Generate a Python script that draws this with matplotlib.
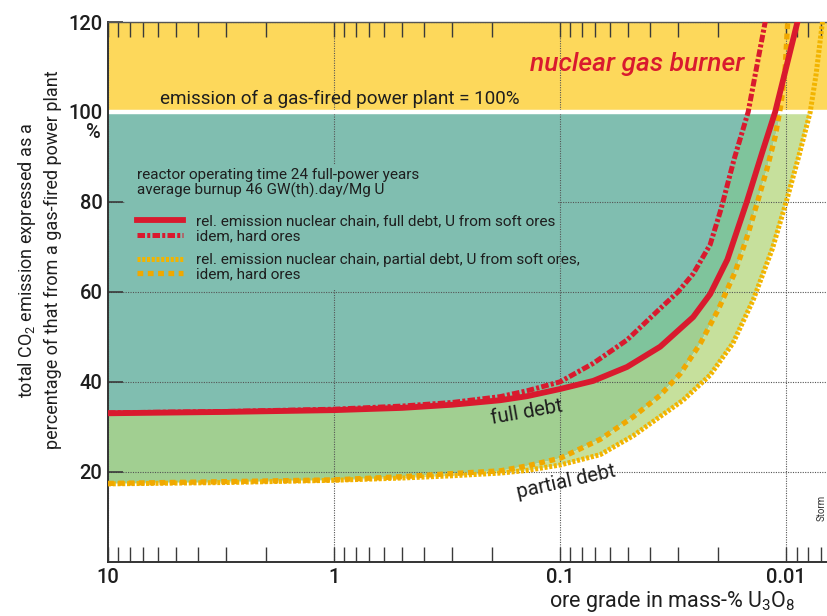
import numpy as np
import matplotlib.pyplot as plt
from matplotlib.patches import Rectangle
from matplotlib.ticker import FixedLocator, LogLocator, NullFormatter

plt.rcParams['font.family'] = ['Roboto', 'DejaVu Sans']
plt.rcParams['mathtext.fontset'] = 'custom'
plt.rcParams['mathtext.rm'] = 'Roboto'
plt.rcParams['mathtext.it'] = 'Roboto:italic'

# ore grade (mass-% U3O8) -> total CO2 emission, % of a gas-fired plant
# full debt, U from soft ores
grade_full_soft = [10, 3, 1, 0.5, 0.3, 0.184, 0.14, 0.1, 0.0714, 0.0506, 0.0361, 0.0258,
                   0.0217, 0.0182, 0.0149, 0.01277, 0.01119, 0.00894, 0.0083]
emis_full_soft = [33.0, 33.3, 33.7, 34.2, 34.9, 35.9, 36.8, 38.4, 40.2, 43.3, 47.8, 54.4,
                  59.5, 67.2, 80.2, 91.0, 100.0, 119.8, 126.0]
# full debt, hard ores
grade_full_hard = [10, 3, 1, 0.5, 0.3, 0.184, 0.14, 0.1, 0.0714, 0.0506, 0.0361, 0.0301,
                   0.0258, 0.0217, 0.0194, 0.0170, 0.01473, 0.01239, 0.01153]
emis_full_hard = [33.1, 33.4, 33.9, 34.6, 35.4, 36.7, 38.0, 40.0, 44.1, 49.3, 56.3, 60.0,
                  64.0, 70.5, 78.5, 89.5, 100.0, 120.0, 126.0]
# partial debt, hard ores
grade_part_hard = [10, 3, 1, 0.5, 0.3, 0.184, 0.14, 0.1, 0.0665, 0.0475, 0.0361, 0.0294,
                   0.0240, 0.0200, 0.0168, 0.01473, 0.01331, 0.01214, 0.01119, 0.01052,
                   0.01010, 0.00985, 0.00975]
emis_part_hard = [17.4, 17.8, 18.2, 18.9, 19.6, 20.2, 21.3, 23.0, 27.2, 32.2, 37.0, 41.8,
                  48.5, 56.0, 64.5, 73.0, 80.5, 87.5, 94.5, 102.0, 110.0, 120.0, 126.0]
# partial debt, U from soft ores
grade_part_soft = [10, 3, 1, 0.5, 0.3, 0.184, 0.14, 0.1, 0.0665, 0.0475, 0.0286, 0.0217,
                   0.0172, 0.0140, 0.01153, 0.0100, 0.00876, 0.00783, 0.00737, 0.00693,
                   0.00665]
emis_part_soft = [17.3, 17.6, 18.1, 18.6, 19.1, 19.7, 20.3, 21.5, 23.8, 28.0, 35.9, 41.5,
                  48.6, 58.2, 69.5, 80.0, 90.5, 100.0, 108.5, 119.6, 126.0]

xticks = [10, 1, 0.1, 0.01]
xticklabels = ['10', '1', '0.1', '0.01']
yticks = [20, 40, 60, 80, 100, 120]

header = ('reactor operating time 24 full-power years\n'
          'average burnup 46 GW(th).day/Mg U')
labels = ['rel. emission nuclear chain, full debt, U from soft ores',
          'idem, hard ores',
          'rel. emission nuclear chain, partial debt, U from soft ores,',
          'idem, hard ores']

yellow = '#fdd85b'
teal = '#80beb0'
green_mid = '#7fc49c'
green = '#a1cf91'
green_light = '#c6e09c'
red = '#d91a2e'
orange = '#f0a800'
orange2 = '#f2b400'
ink = '#1e1e1e'

fig = plt.figure(figsize=(8.27, 6.16), dpi=100)
ax = fig.add_axes([0.1306, 0.0882, 0.8694, 0.876])

fs_x, fs_y = np.array(grade_full_soft), np.array(emis_full_soft)
fh_x, fh_y = np.array(grade_full_hard), np.array(emis_full_hard)
ph_x, ph_y = np.array(grade_part_hard), np.array(emis_part_hard)
ps_x, ps_y = np.array(grade_part_soft), np.array(emis_part_soft)

# background bands
ax.axhspan(100, 120, color=yellow, lw=0, zorder=0.1)
ax.fill_between(fh_x, np.minimum(fh_y, 100), 100, color=teal, lw=0, zorder=0.2)


def band(xa, ya, xb, yb, color):
    ax.fill(np.r_[xa, xb[::-1]], np.r_[np.minimum(ya, 100), np.minimum(yb, 100)[::-1]],
            color=color, lw=0, zorder=0.3)


band(fs_x, fs_y, fh_x, fh_y, green_mid)
band(ph_x, ph_y, fs_x, fs_y, green)
band(ps_x, ps_y, ph_x, ph_y, green_light)

ax.axhline(100, color='white', lw=3.2, zorder=0.7)

l1, = ax.plot(fs_x, fs_y, color=red, lw=4.2, zorder=4)
l2, = ax.plot(fh_x, fh_y, color=red, lw=3.6, ls=(0, (1.5, 0.45, 0.6, 0.45)), zorder=3)
l3, = ax.plot(ps_x, ps_y, color=orange2, lw=3.6, ls=(0, (0.6, 0.35)), zorder=3)
l4, = ax.plot(ph_x, ph_y, color=orange, lw=3.8, ls=(0, (1.1, 0.85)), zorder=3)

ax.set_xscale('log')
ax.set_xlim(10, 0.0066)
ax.set_ylim(0, 120)
ax.xaxis.set_major_locator(FixedLocator(xticks))
ax.set_xticklabels(xticklabels)
ax.xaxis.set_minor_locator(LogLocator(base=10, subs=np.arange(2, 10)))
ax.xaxis.set_minor_formatter(NullFormatter())
ax.set_yticks(yticks)
ax.set_yticklabels([str(v) for v in yticks])

ax.tick_params(axis='x', which='both', direction='in', top=True, bottom=True,
               length=10.8, width=1.0, color='#3a3a3a', labelsize=14.5, pad=4.5,
               labelcolor=ink)
ax.tick_params(axis='y', which='both', direction='in', left=True, right=False,
               length=10.8, width=1.2, color='#3a3a3a', labelsize=14.5, pad=4,
               labelcolor=ink)
for t in ax.get_xticklabels() + ax.get_yticklabels():
    t.set_fontweight('medium')

ax.set_axisbelow(True)
ax.grid(True, which='major', ls=(0, (1, 1.2)), lw=0.8, color='#555555')

ax.spines['right'].set_visible(False)
for s in ['left', 'bottom']:
    ax.spines[s].set_color('#333333')
    ax.spines[s].set_linewidth(1.4)
ax.spines['top'].set_color('#555555')
ax.spines['top'].set_linewidth(1.0)

ax.text(-0.021, 95.5, '%', transform=ax.get_yaxis_transform(), ha='center', va='center',
        fontsize=14.5, fontweight='medium', color=ink)

ax.text(0.3227, 102.8, 'emission of a gas-fired power plant = 100%',
        transform=ax.get_yaxis_transform(), ha='center', va='center',
        fontsize=13.6, color=ink, zorder=5)
ax.text(0.736, 110.6, 'nuclear gas burner', transform=ax.get_yaxis_transform(),
        ha='center', va='center', fontsize=19, style='italic', fontweight='medium',
        color=red, zorder=5)

ax.text(0.14, 33.3, 'full debt', rotation=10, ha='center', va='center',
        fontsize=14.5, color=ink, zorder=5)
ax.text(0.094, 17.7, 'partial debt', rotation=12.5, ha='center', va='center',
        fontsize=14.5, color=ink, zorder=5)

# key block: plain teal panel that hides the grid, header and two pairs of entries
ax.add_patch(Rectangle((0.024, 0.504), 0.602, 0.231, transform=ax.transAxes,
                       facecolor=teal, edgecolor='none', zorder=0.6))
ax.text(0.040, (562 - 183) / 540, header, transform=ax.transAxes, ha='left', va='center',
        fontsize=11, linespacing=1.0, color=ink, zorder=5)

legend_kw = dict(loc='center left', frameon=False, fontsize=11, handlelength=3.0,
                 handletextpad=0.9, labelspacing=0.05, borderpad=0, borderaxespad=0,
                 labelcolor=ink)
leg_full = ax.legend([l1, l2], labels[:2], bbox_to_anchor=(0.040, (562 - 229) / 540),
                     **legend_kw)
ax.add_artist(leg_full)
ax.legend([l3, l4], labels[2:], bbox_to_anchor=(0.040, (562 - 267.5) / 540), **legend_kw)

fig.text(39 / 827, 1 - 260 / 616,
         'total CO$_2$ emission expressed as a\npercentage of that from a gas-fired power plant',
         rotation=90, ha='center', va='center', multialignment='center',
         fontsize=13, linespacing=1.45, color=ink)
ax.set_xlabel('ore grade in mass-% U$_3$O$_8$', fontsize=15.5, color=ink, va='center')
ax.xaxis.set_label_coords(0.785, (562 - 602) / 540)

fig.text(0.994, 1 - 508 / 616, 'Storm', rotation=90, ha='center', va='center',
         fontsize=7, color='#333333')

fig.savefig('out.png', dpi=100)
